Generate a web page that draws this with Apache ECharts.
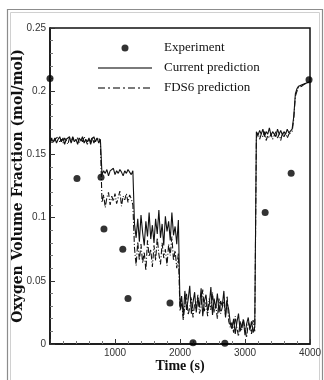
<!DOCTYPE html>
<html>
<head>
<meta charset="utf-8">
<script src="https://cdn.jsdelivr.net/npm/echarts@6/dist/echarts.min.js"></script>
<style>
  html, body { margin: 0; padding: 0; background: #fff; }
  #chart { width: 324px; height: 380px; }
</style>
</head>
<body>
<div id="chart"></div>
<script>
// 采样间隔 (s)，两条预测曲线每 25 s 一个点
var STEP = 25;

// 实验点
var expTime = [0, 415, 785, 830, 1120, 1200, 1846, 2200, 2690, 3310, 3710, 3985];
var expO2 = [0.210, 0.131, 0.132, 0.091, 0.075, 0.036, 0.0325, 0.001, 0.0005, 0.104, 0.135, 0.209];

// Current prediction，每行 8 个点 = 200 s
var currentO2 = [
  0.158, 0.162, 0.160, 0.163, 0.159, 0.162, 0.164, 0.160,
  0.163, 0.158, 0.162, 0.161, 0.164, 0.159, 0.163, 0.160,
  0.162, 0.158, 0.163, 0.161, 0.164, 0.159, 0.162, 0.160,
  0.163, 0.158, 0.162, 0.164, 0.160, 0.163, 0.159, 0.162,
  0.134, 0.137, 0.135, 0.138, 0.133, 0.137, 0.136, 0.139,
  0.134, 0.137, 0.135, 0.138, 0.136, 0.133, 0.137, 0.135,
  0.138, 0.136, 0.134, 0.137, 0.095, 0.084, 0.099, 0.081,
  0.102, 0.088, 0.078, 0.097, 0.085, 0.104, 0.083, 0.094,
  0.080, 0.099, 0.087, 0.106, 0.084, 0.095, 0.078, 0.101,
  0.089, 0.097, 0.082, 0.104, 0.086, 0.093, 0.079, 0.098,
  0.030, 0.038, 0.022, 0.042, 0.027, 0.035, 0.046, 0.024,
  0.033, 0.041, 0.025, 0.037, 0.029, 0.044, 0.022, 0.034,
  0.039, 0.026, 0.031, 0.045, 0.023, 0.036, 0.028, 0.040,
  0.025, 0.034, 0.030, 0.042, 0.021, 0.033, 0.027, 0.016,
  0.012, 0.020, 0.008, 0.017, 0.024, 0.010, 0.015, 0.019,
  0.007, 0.016, 0.021, 0.011, 0.018, 0.009, 0.014, 0.168,
  0.165, 0.169, 0.166, 0.170, 0.164, 0.168, 0.166, 0.171,
  0.165, 0.168, 0.167, 0.164, 0.170, 0.166, 0.169, 0.165,
  0.168, 0.166, 0.170, 0.167, 0.168, 0.170, 0.180, 0.198,
  0.202, 0.204, 0.205, 0.205, 0.206, 0.206, 0.207, 0.207,
  0.208
];

// FDS6 prediction
var fdsO2 = [
  0.160, 0.163, 0.159, 0.162, 0.161, 0.164, 0.160, 0.162,
  0.159, 0.163, 0.161, 0.158, 0.163, 0.160, 0.164, 0.161,
  0.160, 0.163, 0.159, 0.162, 0.160, 0.164, 0.161, 0.158,
  0.162, 0.160, 0.164, 0.159, 0.162, 0.161, 0.163, 0.160,
  0.112, 0.118, 0.108, 0.116, 0.120, 0.110, 0.117, 0.113,
  0.119, 0.111, 0.116, 0.121, 0.109, 0.117, 0.114, 0.119,
  0.112, 0.118, 0.115, 0.110, 0.076, 0.062, 0.081, 0.066,
  0.079, 0.064, 0.073, 0.058, 0.082, 0.069, 0.075, 0.061,
  0.078, 0.066, 0.084, 0.071, 0.063, 0.080, 0.068, 0.075,
  0.062, 0.079, 0.070, 0.085, 0.066, 0.074, 0.060, 0.072,
  0.026, 0.034, 0.019, 0.031, 0.040, 0.023, 0.029, 0.037,
  0.021, 0.032, 0.028, 0.039, 0.024, 0.030, 0.043, 0.026,
  0.033, 0.022, 0.036, 0.027, 0.041, 0.025, 0.031, 0.020,
  0.036, 0.024, 0.029, 0.034, 0.023, 0.038, 0.018, 0.013,
  0.017, 0.009, 0.022, 0.013, 0.006, 0.018, 0.011, 0.020,
  0.012, 0.005, 0.017, 0.014, 0.008, 0.019, 0.010, 0.163,
  0.167, 0.162, 0.166, 0.164, 0.168, 0.161, 0.165, 0.163,
  0.166, 0.162, 0.165, 0.168, 0.163, 0.166, 0.161, 0.167,
  0.164, 0.167, 0.163, 0.166, 0.165, 0.168, 0.178, 0.196,
  0.200, 0.203, 0.204, 0.204, 0.205, 0.206, 0.206, 0.207,
  0.207
];

function toPairs(arr) {
  return arr.map(function (v, i) { return [i * STEP, v]; });
}

var chart = echarts.init(document.getElementById('chart'), null, { renderer: 'canvas' });

var tickLabel = { color: '#333', fontSize: 10, fontFamily: 'Liberation Sans' };

var option = {
  backgroundColor: '#fff',
  animation: false,
  // 外框
  graphic: [
    { type: 'rect', shape: { x: 7.5, y: 9.5, width: 315, height: 380 }, style: { fill: 'none', stroke: '#8c8c8c', lineWidth: 1.2 }, silent: true },
    { type: 'rect', shape: { x: 10.5, y: 12.5, width: 309, height: 380 }, style: { fill: 'none', stroke: '#d0d0d0', lineWidth: 1 }, silent: true }
  ],
  grid: {
    left: 50, right: 14, top: 28, bottom: 36,
    outerBoundsMode: 'none',
    show: true, borderColor: '#111', borderWidth: 1.5, backgroundColor: 'transparent'
  },
  legend: {
    orient: 'vertical',
    left: 97, top: 41, padding: 0,
    itemWidth: 54, itemHeight: 7, itemGap: 6,
    textStyle: { color: '#111', fontSize: 13, fontFamily: 'Liberation Serif', lineHeight: 14, padding: [0, 0, 0, 7] },
    data: [
      { name: 'Experiment' },
      { name: 'Current prediction', itemStyle: { opacity: 0 }, lineStyle: { color: '#7a7a7a', width: 2 } },
      { name: 'FDS6 prediction', itemStyle: { opacity: 0 }, lineStyle: { color: '#7a7a7a', width: 2, type: [7, 3, 2, 3] } }
    ]
  },
  xAxis: {
    type: 'value', min: 0, max: 4000, interval: 1000,
    name: 'Time (s)', nameLocation: 'middle', nameGap: 15, nameMoveOverlap: false,
    nameTextStyle: { color: '#111', fontSize: 14, fontWeight: 'bold', fontFamily: 'Liberation Serif' },
    axisLine: { show: true, lineStyle: { color: '#111', width: 1.5 } },
    axisTick: { show: true, inside: true, length: 5, lineStyle: { color: '#333' } },
    minorTick: { show: true, splitNumber: 5, length: 3, lineStyle: { color: '#777' } },
    splitLine: { show: false },
    axisLabel: Object.assign({ margin: 4, formatter: function (v) { return v === 0 ? '' : String(v); } }, tickLabel)
  },
  yAxis: {
    type: 'value', min: 0, max: 0.25, interval: 0.05,
    name: 'Oxygen Volume Fraction (mol/mol)', nameLocation: 'middle', nameGap: 25, nameMoveOverlap: false,
    nameTextStyle: { color: '#111', fontSize: 14, fontWeight: 'bold', fontFamily: 'DejaVu Serif' },
    axisLine: { show: true, lineStyle: { color: '#111', width: 1.5 } },
    axisTick: { show: true, inside: true, length: 5, lineStyle: { color: '#333' } },
    minorTick: { show: true, splitNumber: 5, length: 3, lineStyle: { color: '#777' } },
    splitLine: { show: false },
    axisLabel: Object.assign({ margin: 4 }, tickLabel)
  },
  series: [
    {
      name: 'Current prediction', type: 'line', symbol: 'none',
      lineStyle: { color: '#111', width: 1.1 },
      data: toPairs(currentO2), z: 2
    },
    {
      name: 'FDS6 prediction', type: 'line', symbol: 'none',
      lineStyle: { color: '#111', width: 1.1, type: [6, 2, 1, 2] },
      data: toPairs(fdsO2), z: 2
    },
    {
      name: 'Experiment', type: 'scatter', symbol: 'circle', symbolSize: 7,
      itemStyle: { color: '#000' },
      data: expTime.map(function (t, i) { return [t, expO2[i]]; }), z: 3
    }
  ]
};

chart.setOption(option);
</script>
</body>
</html>
